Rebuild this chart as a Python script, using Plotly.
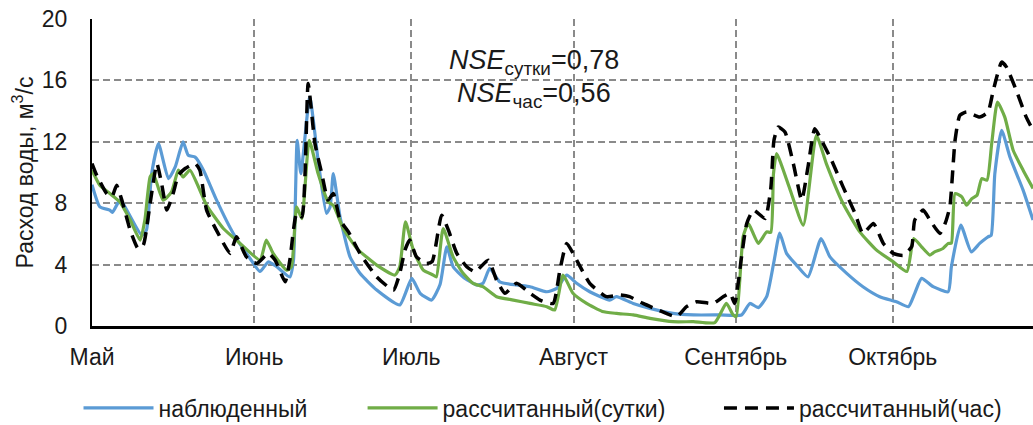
import datetime as dt
import plotly.graph_objects as go

season_start = dt.datetime(2019, 5, 1)

# observed discharge (day of season, m3/s)
obs_days = [0, 1.5, 3.4, 3.9, 5.3, 5.9, 9.5, 10.4, 11.4, 12.7, 14.6, 15.9, 17.4, 18.4, 19.7,
            21.3, 23.8, 27.0, 30.2, 32.1, 33.7, 35.3, 37.8, 38.5, 39.2, 39.9, 41.6, 43.2,
            44.8, 45.5, 46.1, 47.4, 49.3, 51.2, 54.4, 58.8, 61.1, 62.7, 64.9, 66.5, 67.8,
            69.0, 70.9, 73.5, 74.7, 76.0, 77.9, 81.1, 83.7, 86.9, 88.8, 90.7, 92.6, 95.1,
            98.9, 100.2, 103.4, 106.6, 111.0, 114.9, 120.0, 124.1, 125.7, 127.3, 128.9,
            130.3, 131.4, 132.7, 134.6, 136.8, 139.3, 141.0, 144.2, 147.3, 150.5, 153.7,
            156.0, 157.2, 158.5, 160.7, 163.6, 164.2, 166.0, 168.0, 169.6, 171.2, 171.8,
            172.5, 173.8, 175.4, 177.9, 179.8]
obs_vals = [9.2, 7.76, 7.55, 7.4, 8.2, 8.0, 5.92, 6.25, 9.93, 11.88, 9.6, 10.36, 11.99, 11.12,
            11.0, 10.15, 8.2, 6.03, 4.4, 3.55, 4.18, 3.86, 3.2, 4.3, 12.1, 9.93, 14.9, 10.8,
            7.33, 7.76, 9.93, 7.1, 4.5, 3.43, 2.34, 1.37, 3.1, 2.13, 1.69, 2.7, 5.16,
            3.86, 3.2, 2.67, 2.78, 3.75, 2.88, 2.67, 2.56, 2.23, 2.45, 3.32, 2.78, 2.23,
            1.69, 1.91, 1.47, 1.15, 0.82, 0.72, 0.72, 0.72, 1.47, 1.2, 1.91,
            4.2, 6.05, 4.73, 3.97, 3.2, 5.7, 4.5, 3.43, 2.56, 1.91, 1.58,
            1.26, 2.13, 3.1, 2.56, 2.23, 3.86, 6.57, 4.83, 5.38, 5.81, 5.9,
            9.93, 12.75, 11.0, 8.85, 6.9]

# modelled discharge, daily step
day_days = [0, 1.5, 3.4, 5.3, 7.3, 9.2, 10.1, 11.1, 11.7, 13.6, 15.2, 16.5, 17.4, 18.7, 21.9,
            25.1, 28.3, 32.1, 33.3, 34.6, 37.2, 38.1, 39.1, 40.1, 41.5, 43.2, 45.1, 46.1, 48.0,
            50.6, 54.4, 57.9, 58.8, 59.9, 61.4, 63.3, 65.2, 65.8, 67.1, 69.0, 70.9, 72.8,
            74.7, 77.3, 80.5, 83.7, 86.9, 88.4, 90.0, 91.9, 94.5, 97.5, 100.2, 103.4, 106.6,
            111.0, 114.9, 119.0, 121.2, 122.5, 123.1, 124.4, 125.4, 127.3, 128.9, 129.7,
            130.2, 130.8, 133.3, 135.9, 138.4, 140.3, 143.5, 146.7, 149.9, 153.1, 155.7,
            157.0, 158.5, 160.1, 161.0, 162.6, 163.6, 164.2, 164.9, 166.2, 167.1, 168.1,
            169.1, 170.0, 171.0, 171.9, 173.0, 174.4, 176.0, 177.9, 179.8]
day_vals = [10.15, 9.17, 8.63, 8.09, 6.9, 5.6, 6.9, 9.71, 9.93, 8.2, 8.74, 10.15, 9.71, 10.15,
            7.87, 6.35, 5.38, 4.3, 5.6, 4.73, 3.64, 3.86, 7.76, 7.0, 12.1, 9.93, 8.09, 7.87,
            6.35, 5.05, 3.97, 3.32, 3.86, 6.78, 4.94, 3.64, 3.32, 3.2, 6.35, 4.5, 3.43, 2.78,
            2.56, 1.91, 1.69, 1.47, 1.26, 1.04, 3.32, 2.13, 1.47, 0.95, 0.82, 0.72, 0.5,
            0.28, 0.28, 0.22, 1.47, 0.72, 0.61, 5.81, 6.68, 5.38, 6.13, 6.1,
            9.9, 11.23, 8.96, 6.57, 12.42, 10.58, 7.98, 6.13, 4.94, 4.18, 3.55,
            5.7, 5.16, 4.62, 4.83, 5.05, 5.38, 5.4, 8.63, 8.41, 7.87, 8.3,
            8.52, 9.6, 9.5, 11.88, 14.59, 13.61, 11.45, 10.15, 8.96]

# modelled discharge, hourly step
hour_days = [0, 0.9, 2.8, 3.8, 4.7, 5.7, 7.3, 8.8, 9.8, 11.1, 12.4, 13.3, 14.3, 15.5, 16.5,
             17.8, 19.7, 20.6, 21.9, 24.1, 26.4, 27.6, 29.5, 31.5, 33.7, 35.0, 36.9, 37.8,
             39.1, 40.1, 41.3, 42.6, 43.9, 45.1, 46.1, 47.4, 49.0, 51.2, 54.4, 57.6, 58.8,
             59.8, 60.7, 62.0, 63.9, 65.0, 66.8, 68.1, 69.7, 71.6, 73.2, 75.7, 77.3, 78.9,
             81.1, 83.7, 85.6, 88.1, 89.4, 90.7, 92.6, 95.1, 98.3, 100.8, 102.7, 105.3,
             108.2, 111.7, 113.6, 115.5, 118.7, 120.6, 121.9, 122.8, 124.1, 125.1, 126.4,
             128.6, 129.7, 130.3, 131.1, 132.4, 134.0, 135.6, 136.8, 138.1, 139.7, 141.3,
             143.5, 145.8, 147.3, 149.3, 151.2, 153.1, 155.0, 156.6, 157.2, 158.8, 160.1,
             162.0, 163.0, 163.9, 164.9, 165.8, 167.1, 169.6, 171.2, 172.2, 173.8, 174.7,
             176.6, 178.5, 179.8]
hour_vals = [10.58, 9.82, 8.63, 8.41, 9.17, 8.2, 6.24, 5.05, 5.27, 7.98, 10.58, 9.28, 7.55,
             8.63, 9.82, 10.26, 10.58, 10.15, 7.55, 6.03, 4.73, 5.81, 4.5, 4.08, 4.73, 4.29,
             2.88, 4.29, 7.33, 7.11, 15.79, 11.88, 9.93, 8.2, 8.63, 6.9, 6.13, 4.73, 3.2,
             2.34, 3.43, 4.94, 5.6, 4.5, 4.08, 4.2, 7.22, 6.24, 4.73, 3.86, 3.53, 4.29, 2.99,
             2.13, 2.78, 2.13, 1.69, 1.47, 3.64, 5.38, 4.29, 2.78, 1.91, 2.02, 1.91, 1.47,
             1.04, 0.61, 1.26, 1.58, 1.47, 1.91, 2.13, 1.47, 4.5, 6.68, 7.55,
             7.0, 9.0, 12.1, 12.96, 12.64, 10.58, 8.2, 10.36, 12.85, 11.88, 10.8,
             9.06, 7.33, 6.03, 6.68, 5.38, 4.73, 4.6, 5.16, 6.9, 7.55, 6.9,
             6.03, 6.68, 7.76, 12.1, 13.72, 13.94, 13.61, 13.94, 15.35, 17.19, 16.88,
             15.35, 13.61, 12.75]

month_starts = ["2019-05-01", "2019-06-01", "2019-07-01", "2019-08-01", "2019-09-01", "2019-10-01"]
month_labels = ["Май", "Июнь", "Июль", "Август", "Сентябрь", "Октябрь"]
x_end = "2019-10-27 19:00"

series_names = ["наблюденный", "рассчитанный(сутки)", "рассчитанный(час)"]
nse_labels = ["<i>NSE</i><sub>сутки</sub>=0,78", "<i>NSE</i><sub>час</sub>=0,56"]


def to_dates(days):
    return [season_start + dt.timedelta(days=d) for d in days]


FONT = "Liberation Sans, Arial, sans-serif"
TXT = "#1a1a1a"
GRID = "#8a8a8a"

fig = go.Figure()
fig.add_trace(go.Scatter(x=to_dates(obs_days), y=obs_vals, mode="lines", name=series_names[0],
                         line=dict(color="#5B9BD5", width=3.2, shape="spline", smoothing=0.5),
                         legend="legend"))
fig.add_trace(go.Scatter(x=to_dates(day_days), y=day_vals, mode="lines", name=series_names[1],
                         line=dict(color="#70AD47", width=3.2, shape="spline", smoothing=0.5),
                         legend="legend2"))
fig.add_trace(go.Scatter(x=to_dates(hour_days), y=hour_vals, mode="lines", name=series_names[2],
                         line=dict(color="#000000", width=3.5, dash="13px,8px", shape="spline",
                                   smoothing=0.5),
                         legend="legend3"))

leg_common = dict(orientation="h", xref="container", yref="container", yanchor="middle",
                  y=0.04, xanchor="left", bgcolor="rgba(0,0,0,0)", itemwidth=70,
                  font=dict(family=FONT, size=23, color=TXT))

fig.update_layout(
    width=1033, height=425,
    margin=dict(l=92, r=0, t=19, b=99, autoexpand=False),
    paper_bgcolor="white", plot_bgcolor="white",
    font=dict(family=FONT, color=TXT),
    showlegend=True,
    legend=dict(leg_common, x=0.076),
    legend2=dict(leg_common, x=0.351),
    legend3=dict(leg_common, x=0.696),
    xaxis=dict(type="date", range=[month_starts[0], x_end], tickvals=month_starts,
               ticktext=month_labels, showgrid=True, gridcolor=GRID, gridwidth=1.5,
               griddash="7px,4px", showline=True, linecolor="black", linewidth=2.5,
               ticks="", tickfont=dict(family=FONT, size=23, color=TXT),
               ticklabelstandoff=9, zeroline=False, automargin=False),
    yaxis=dict(range=[0, 20], tickvals=[0, 4, 8, 12, 16, 20], showgrid=True, gridcolor=GRID,
               gridwidth=1.5, griddash="7px,4px", showline=True, linecolor="black",
               linewidth=2, ticks="", tickfont=dict(family=FONT, size=23, color=TXT),
               ticklabelstandoff=18, zeroline=False, automargin=False,
               title=dict(text="Расход воды, м<sup>3</sup>/с", font=dict(family=FONT, size=23, color=TXT),
                          standoff=2)),
    annotations=[
        dict(x=0.47, y=0.86, xref="paper", yref="paper", text=nse_labels[0], showarrow=False,
             font=dict(family=FONT, size=27, color=TXT), xanchor="center", yanchor="middle"),
        dict(x=0.47, y=0.752, xref="paper", yref="paper", text=nse_labels[1], showarrow=False,
             font=dict(family=FONT, size=27, color=TXT), xanchor="center", yanchor="middle"),
    ],
)

fig.write_html("out.html", config={"displayModeBar": False},
               post_script="document.body.style.margin='0';")
